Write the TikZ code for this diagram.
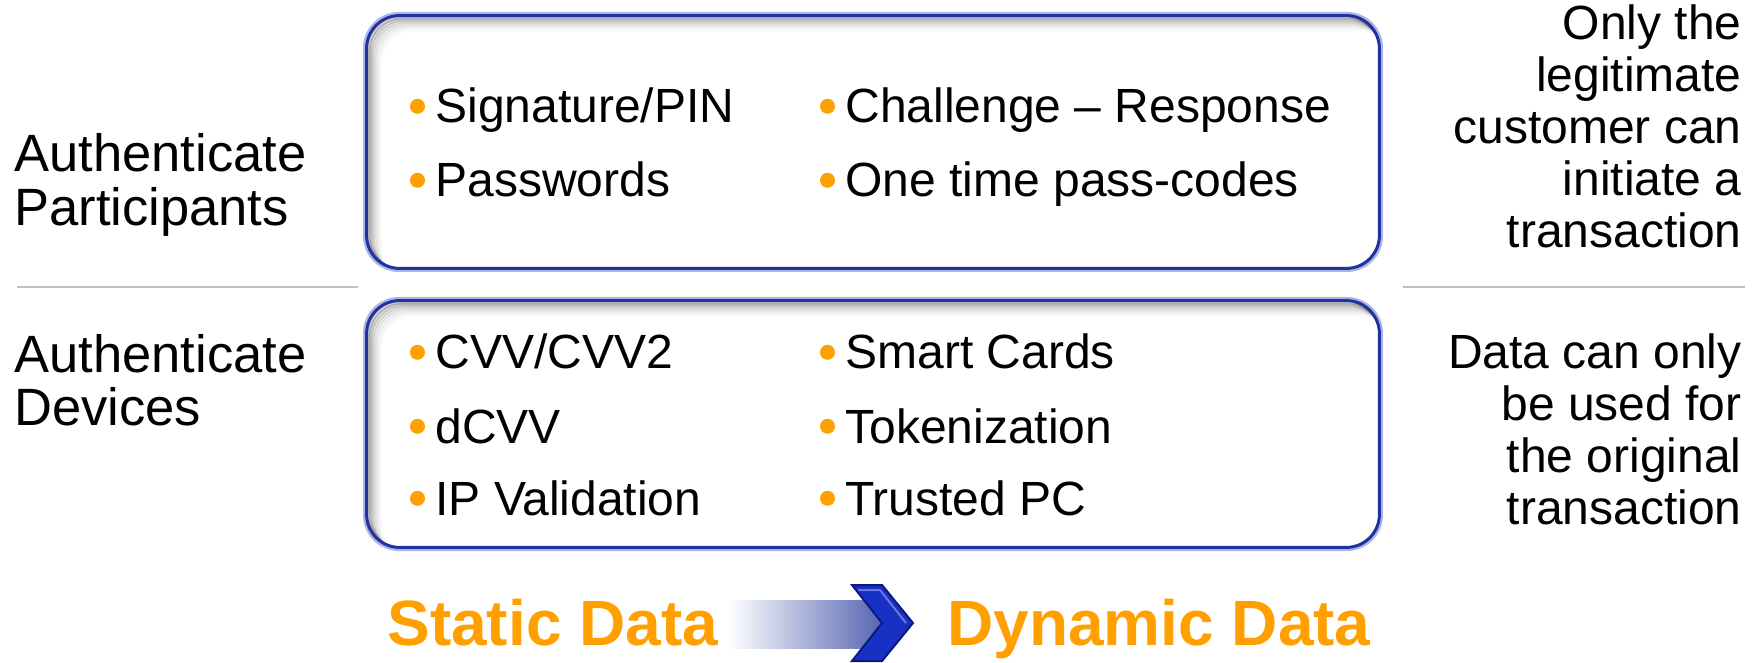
\documentclass[tikz,border=0pt]{standalone}
\usepackage{fontspec}
\setmainfont{Liberation Sans}
\usetikzlibrary{calc}
\definecolor{frameblue}{RGB}{34,48,160}
\definecolor{framehalo}{RGB}{170,182,230}
\definecolor{bulletorange}{RGB}{255,160,0}
\definecolor{rulegray}{RGB}{192,192,192}
\definecolor{fadeblue}{RGB}{88,102,178}
\definecolor{chevronblue}{RGB}{24,48,196}
\definecolor{chevrondark}{RGB}{10,26,130}

\tikzset{
  panel/.style={fill=white, rounded corners=16.5pt, inner sep=0pt, minimum width=506pt},
  panelframe/.style={draw=frameblue, line width=1.5pt, rounded corners=16.5pt},
  halo/.style={draw=framehalo, line width=2pt, rounded corners=17pt, inner sep=0pt},
  itemtext/.style={font=\fontsize{24}{26}\selectfont, inner sep=0pt, anchor=base west},
  dot/.style={circle, fill=bulletorange, inner sep=0pt, minimum size=7.5pt},
  sidelabel/.style={font=\fontsize{26.25}{25.5}\selectfont, inner sep=0pt, anchor=base west},
  note/.style={font=\fontsize{24}{26}\selectfont, inner sep=0pt, anchor=base east},
  bigorange/.style={font=\fontsize{32}{34}\selectfont\bfseries, text=bulletorange, inner sep=0pt, anchor=base west},
  divider/.style={draw=rulegray, line width=1pt}
}

% soft inner shadow along the top and left edges of a panel, then its frame
\newcommand\panelshade[1]{%
  \begin{scope}
    \clip[rounded corners=16.5pt] (#1.north west) rectangle (#1.south east);
    \foreach \d/\o in {2/0.20,4/0.15,6/0.11,8/0.08,10/0.05,12/0.03,14/0.015}{
      \draw[black, line width=2pt, opacity=\o, rounded corners=16.5pt]
        ($(#1.north west)+(\d,\d)$) rectangle ($(#1.south east)+(\d,\d)$);
    }
  \end{scope}
  \draw[panelframe] (#1.north west) rectangle (#1.south east);}

% one bullet point: name, x of text start, baseline y, text
\newcommand\bulletitem[4]{%
  \node[dot] (#1-dot) at (#2-17.5,#3-16.7) {};
  \node[itemtext] (#1) at (#2,#3) {#4};}

\begin{document}
\begin{tikzpicture}[x=0.5pt,y=-0.5pt]
\useasboundingbox (0,0) rectangle (1762,663);

% the two rounded panels
\node[halo, minimum width=508pt, minimum height=128pt] (tophalo) at (873,142) {};
\node[panel, minimum height=126pt] (toppanel) at (873,142) {};
\panelshade{toppanel}
\node[halo, minimum width=508pt, minimum height=125pt] (bothalo) at (873,424) {};
\node[panel, minimum height=123pt] (botpanel) at (873,424) {};
\panelshade{botpanel}

% divider rules
\coordinate (lruleA) at (17,287);
\coordinate (lruleB) at (358,287);
\coordinate (rruleA) at (1403,287);
\coordinate (rruleB) at (1745,287);
\draw[divider] (lruleA) -- (lruleB);
\draw[divider] (rruleA) -- (rruleB);

% row labels
\node[sidelabel] (participants) at (14,172)
  {\begin{tabular}[t]{@{}l@{}}Authenticate\\Participants\end{tabular}};
\node[sidelabel] (devices) at (14,372)
  {\begin{tabular}[t]{@{}l@{}}Authenticate\\Devices\end{tabular}};

% panel contents
\bulletitem{sig}{435}{123}{Signature/PIN}
\bulletitem{pwd}{435}{197}{Passwords}
\bulletitem{chal}{845}{123}{Challenge – Response}
\bulletitem{otp}{845}{197}{One time pass-codes}

\bulletitem{cvv}{435}{369}{CVV/CVV2}
\bulletitem{dcvv}{435}{443}{dCVV}
\bulletitem{ipv}{435}{515}{IP Validation}
\bulletitem{smart}{845}{369}{Smart Cards}
\bulletitem{token}{845}{443}{Tokenization}
\bulletitem{trusted}{845}{515}{Trusted PC}

% outcome notes
\node[note] (customer) at (1742,40)
  {\begin{tabular}[t]{@{}r@{}}Only the\\legitimate\\customer can\\initiate a\\transaction\end{tabular}};
\node[note] (original) at (1742,368)
  {\begin{tabular}[t]{@{}r@{}}Data can only\\be used for\\the original\\transaction\end{tabular}};

% static to dynamic
\node[bigorange] (static) at (387,645) {Static Data};
\node[bigorange] (dynamic) at (947,645) {Dynamic Data};
\shade[left color=white, right color=fadeblue] (728,600) rectangle (882,648);
\filldraw[fill=chevronblue, draw=chevrondark, line width=1pt, line join=miter]
  (852,585) -- (882,585) -- (913,623) -- (882,661) -- (852,661) -- (882,623) -- cycle;
\draw[white, opacity=0.35, line width=1pt] (858,590) -- (880,590) -- (906,623);
\end{tikzpicture}
\end{document}
